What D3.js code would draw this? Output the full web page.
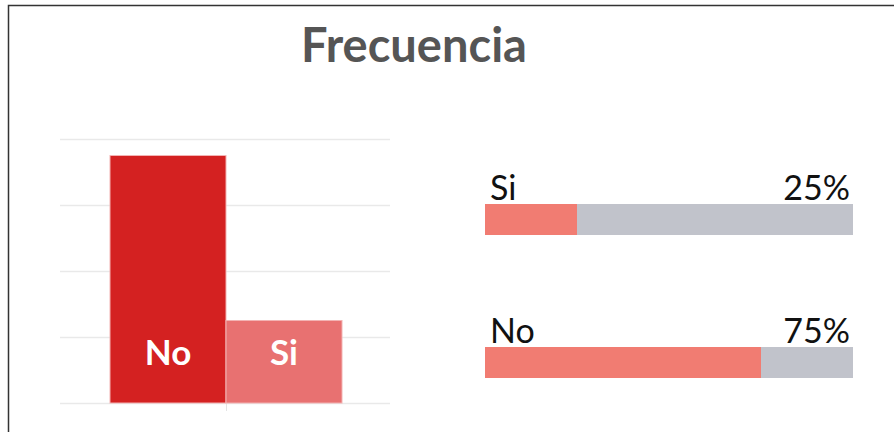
<!DOCTYPE html>
<html>
<head>
<meta charset="utf-8">
<script src="https://cdn.jsdelivr.net/npm/d3@7"></script>
<style>
  body { margin: 0; background: #fff; }
  svg { display: block; font-family: Lato, "Open Sans", sans-serif; }
</style>
</head>
<body>
<script>
// data
const categories = ["No", "Si"];
const values = [75, 25];
const yTicks = [0, 20, 40, 60, 80];
const rowLabels = ["Si", "No"];
const rowValues = [25, 75];
const barColors = ["#d42121", "#e87171"];

const W = 894, H = 432;
const svg = d3.select("body").append("svg")
    .attr("width", W)
    .attr("height", H);

// frame (open on right and bottom)
svg.append("path")
    .attr("d", "M8.5,432 V5.5 H894")
    .attr("fill", "none")
    .attr("stroke", "#333")
    .attr("stroke-width", 1.5);

// title
svg.append("text")
    .attr("x", 414)
    .attr("y", 62)
    .attr("text-anchor", "middle")
    .style("font-size", "47px")
    .style("font-weight", "bold")
    .attr("fill", "#555")
    .text("Frecuencia");

// left: column chart
const x = d3.scaleBand()
    .domain(categories)
    .range([110, 342])
    .padding(0);

const y = d3.scaleLinear()
    .domain([0, 80])
    .range([403, 139]);

svg.append("g")
  .selectAll("line")
  .data(yTicks)
  .enter().append("line")
    .attr("x1", 60)
    .attr("x2", 390)
    .attr("y1", d => y(d) + 0.5)
    .attr("y2", d => y(d) + 0.5)
    .attr("stroke", "#e9e9e9")
    .attr("stroke-width", 1.5);

// single tick between categories
svg.append("line")
    .attr("x1", x("Si") + 0.5)
    .attr("x2", x("Si") + 0.5)
    .attr("y1", y(0))
    .attr("y2", y(0) + 8)
    .attr("stroke", "#e4e4e4")
    .attr("stroke-width", 1);

svg.append("g")
  .selectAll("rect")
  .data(categories)
  .enter().append("rect")
    .attr("x", d => x(d))
    .attr("y", (d, i) => y(values[i]))
    .attr("width", x.bandwidth())
    .attr("height", (d, i) => y(0) - y(values[i]))
    .attr("fill", (d, i) => barColors[i])
    .attr("stroke", "#f3b3b3")
    .attr("stroke-width", 1);

svg.append("g")
  .selectAll("text")
  .data(categories)
  .enter().append("text")
    .attr("x", d => x(d) + x.bandwidth() / 2)
    .attr("y", 365)
    .attr("text-anchor", "middle")
    .attr("fill", "#fff")
    .style("font-size", "35px")
    .style("font-weight", "bold")
    .text(d => d);

// right: progress bars
const px = d3.scaleLinear()
    .domain([0, 100])
    .range([485, 853]);

const py = d3.scalePoint()
    .domain(rowLabels)
    .range([204, 347]);

const barH = 31;

const rows = svg.append("g")
  .selectAll("g")
  .data(rowLabels)
  .enter().append("g");

rows.append("rect")
    .attr("x", px(0))
    .attr("y", d => py(d))
    .attr("width", px(100) - px(0))
    .attr("height", barH)
    .attr("fill", "#c1c3cb");

rows.append("rect")
    .attr("x", px(0))
    .attr("y", d => py(d))
    .attr("width", (d, i) => px(rowValues[i]) - px(0))
    .attr("height", barH)
    .attr("fill", "#f17c72");

rows.append("text")
    .attr("x", px(0) + 5)
    .attr("y", d => py(d) - 4)
    .attr("fill", "#111")
    .style("font-size", "34px")
    .text(d => d);

rows.append("text")
    .attr("x", px(100) - 3)
    .attr("y", d => py(d) - 4)
    .attr("text-anchor", "end")
    .attr("fill", "#111")
    .style("font-size", "34px")
    .text((d, i) => rowValues[i] + "%");
</script>
</body>
</html>
